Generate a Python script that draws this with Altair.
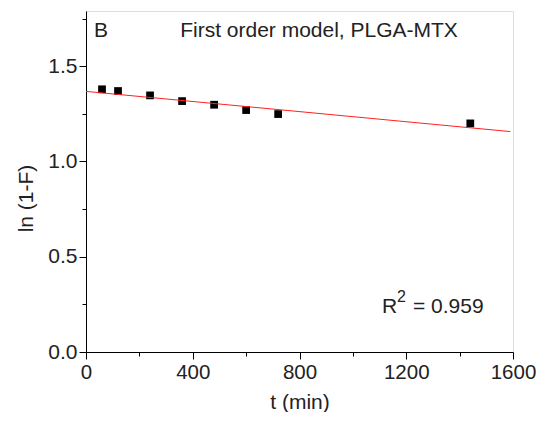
import altair as alt
import pandas as pd

t_min = [60, 120, 240, 360, 480, 600, 720, 1440]
ln_1mF = [1.379, 1.370, 1.347, 1.317, 1.298, 1.270, 1.249, 1.200]
fit_t = [0, 1590]
fit_y = [1.368, 1.157]
x_ticks = [0, 200, 400, 600, 800, 1000, 1200, 1400, 1600]
y_ticks = [0.0, 0.25, 0.5, 0.75, 1.0, 1.25, 1.5, 1.75]

pts = pd.DataFrame({"t": t_min, "y": ln_1mF})
fit = pd.DataFrame({"t": fit_t, "y": fit_y})

FONT = "Liberation Sans"
FS = 21
xs = alt.Scale(domain=[0, 1600], nice=False, zero=False)
ys = alt.Scale(domain=[0, 1.79], nice=False, zero=False)

x_axis = alt.Axis(values=x_ticks, title="t (min)",
                  labelExpr="datum.value % 400 === 0 ? format(datum.value, 'd') : ''",
                  tickSize={"condition": {"test": "datum.value % 400 !== 0", "value": 4}, "value": 7},
                  labelPadding=3,
                  grid=False, domainColor="black", tickColor="black", labelFont=FONT,
                  labelFontSize=20.5, labelColor="#222", titleFont=FONT, titleFontSize=FS,
                  titleFontWeight="normal", titleColor="#222", titlePadding=9, labelFlush=False)
y_axis = alt.Axis(values=y_ticks, title="ln (1-F)",
                  labelExpr="(datum.value * 4) % 2 === 0 ? format(datum.value, '.1f') : ''",
                  tickSize={"condition": {"test": "(datum.value * 4) % 2 !== 0", "value": 4}, "value": 7},
                  labelPadding=2,
                  grid=False, domainColor="black", tickColor="black", labelFont=FONT,
                  labelFontSize=FS, labelColor="#222", titleFont=FONT, titleFontSize=FS,
                  titleFontWeight="normal", titleColor="#222", titleX=-60, titleY=187,
                  titleAngle=-90, titleBaseline="middle", titleAlign="center")

pts_layer = alt.Chart(pts).mark_square(size=60, color="black", opacity=1).encode(
    x=alt.X("t:Q", scale=xs, axis=x_axis),
    y=alt.Y("y:Q", scale=ys, axis=y_axis),
)

fit_layer = alt.Chart(fit).mark_line(color="#ff2020", strokeWidth=1).encode(
    x=alt.X("t:Q", scale=xs),
    y=alt.Y("y:Q", scale=ys),
)

txt_style = dict(font=FONT, fontSize=FS, color="#222", baseline="middle")
label_b = alt.Chart(pd.DataFrame({"s": ["B"]})).mark_text(align="left", **txt_style).encode(
    x=alt.value(8), y=alt.value(20), text="s:N")
title_t = alt.Chart(pd.DataFrame({"s": ["First order model, PLGA-MTX"]})).mark_text(align="center", **txt_style).encode(
    x=alt.value(233), y=alt.value(20), text="s:N")
r_t = alt.Chart(pd.DataFrame({"s": ["R"]})).mark_text(align="left", **txt_style).encode(
    x=alt.value(296), y=alt.value(296), text="s:N")
r2_t = alt.Chart(pd.DataFrame({"s": ["2"]})).mark_text(align="left", font=FONT, fontSize=16, color="#222", baseline="middle").encode(
    x=alt.value(311), y=alt.value(286), text="s:N")
r_val = alt.Chart(pd.DataFrame({"s": ["= 0.959"]})).mark_text(align="left", **txt_style).encode(
    x=alt.value(327), y=alt.value(296), text="s:N")

chart = alt.layer(pts_layer, fit_layer, label_b, title_t, r_t, r2_t, r_val).properties(
    width=427, height=341,
    autosize=alt.AutoSizeParams(type="none"),
    padding={"left": 78, "top": 3, "right": 23, "bottom": 60},
).configure_view(stroke="#aaaaaa", strokeWidth=1).configure(background="white")

chart.save("out.html", embed_options={"renderer": "svg", "actions": False})
